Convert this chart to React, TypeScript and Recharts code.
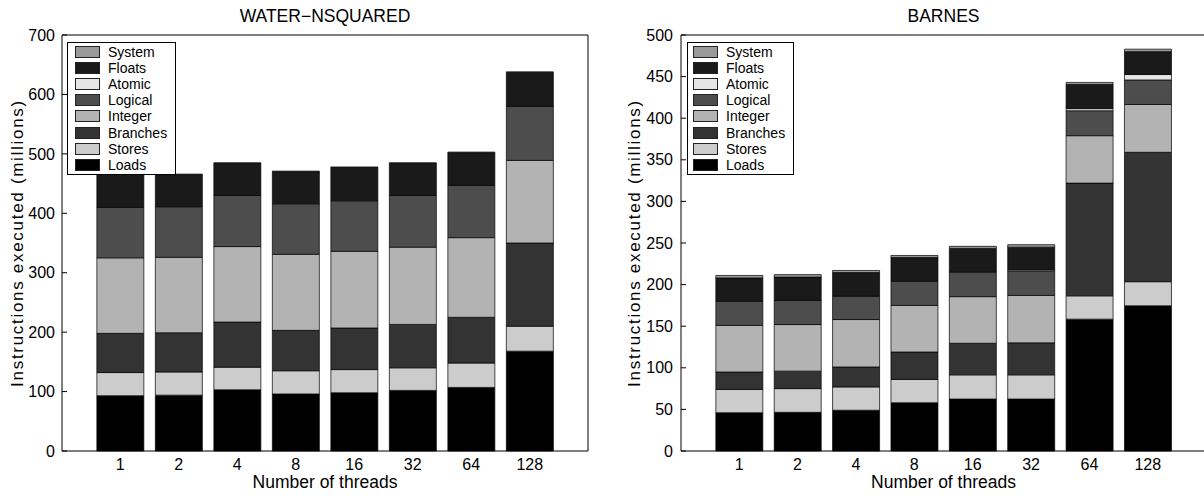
import React from 'react';
import { BarChart, Bar, XAxis, YAxis, Label } from 'recharts';

const threads = ['1', '2', '4', '8', '16', '32', '64', '128'];
const seriesNames = ['Loads', 'Stores', 'Branches', 'Integer', 'Logical', 'Atomic', 'Floats', 'System'];
const seriesColors = ['#000000', '#cccccc', '#333333', '#b3b3b3', '#4d4d4d', '#e6e6e6', '#1a1a1a', '#999999'];

// WATER-NSQUARED (millions)
const waterLoads = [93, 94, 103, 96, 98, 102, 107, 168];
const waterStores = [39, 39, 38, 39, 39, 38, 41, 42];
const waterBranches = [66, 66, 76, 68, 70, 73, 77, 140];
const waterInteger = [127, 127, 127, 128, 129, 130, 134, 139];
const waterLogical = [85, 85, 86, 85, 85, 87, 88, 91];
const waterAtomic = [0, 0, 0, 0, 0, 0, 0, 0];
const waterFloats = [57, 54, 54, 54, 56, 54, 55, 57];
const waterSystem = [1, 1, 1, 1, 1, 1, 1, 1];
const waterTicks = [0, 100, 200, 300, 400, 500, 600, 700];

// BARNES (millions)
const barnesLoads = [46, 46.5, 49, 58, 62.5, 62.5, 158.5, 174.5];
const barnesStores = [28, 28.5, 28, 28, 29, 29, 28, 29];
const barnesBranches = [21, 21, 24, 33, 38, 38.5, 135.5, 155.5];
const barnesInteger = [56, 56, 57, 56, 56, 57, 57, 57.5];
const barnesLogical = [29, 29, 28, 29, 29, 29, 30, 29.5];
const barnesAtomic = [0, 0, 0, 0, 1, 1.5, 2.5, 6.5];
const barnesFloats = [28, 28, 28.5, 28.5, 28, 27.5, 29, 27.5];
const barnesSystem = [3, 3, 2.5, 2.5, 2.5, 3, 2.5, 3];
const barnesTicks = [0, 50, 100, 150, 200, 250, 300, 350, 400, 450, 500];

function buildRows(cols: number[][]) {
  return threads.map((t, i) => {
    const row: Record<string, any> = { threads: t };
    seriesNames.forEach((n, k) => {
      row[n] = cols[k][i];
    });
    return row;
  });
}

const waterRows = buildRows([waterLoads, waterStores, waterBranches, waterInteger, waterLogical, waterAtomic, waterFloats, waterSystem]);
const barnesRows = buildRows([barnesLoads, barnesStores, barnesBranches, barnesInteger, barnesLogical, barnesAtomic, barnesFloats, barnesSystem]);

const FONT = '"Liberation Sans", Arial, Helvetica, sans-serif';

type PanelProps = {
  rows: any[];
  title: string;
  yMax: number;
  yTicks: number[];
  left: number;
  width: number;
  yAxisWidth: number;
  rightMargin: number;
  tickMargin: number;
  yLabelOffset: number;
  legendLeft: number;
  legendWidth: number;
  swatchLeft: number;
};

function LegendBox({ left, width, swatchLeft }: { left: number; width: number; swatchLeft: number }) {
  const order = [...seriesNames].reverse();
  return (
    <div
      style={{
        position: 'absolute',
        left,
        top: 42,
        width,
        height: 133,
        border: '1px solid #000',
        boxSizing: 'border-box',
        background: '#fff',
        paddingTop: 1,
        fontFamily: FONT,
        fontSize: 14,
        color: '#000',
      }}
    >
      {order.map((n) => {
        const k = seriesNames.indexOf(n);
        return (
          <div key={n} style={{ height: 16.1, display: 'flex', alignItems: 'center' }}>
            <div
              style={{
                marginLeft: swatchLeft,
                width: 25,
                height: 12,
                boxSizing: 'border-box',
                border: '1px solid #222',
                background: seriesColors[k],
              }}
            />
            <span style={{ marginLeft: 8, lineHeight: '16px' }}>{n}</span>
          </div>
        );
      })}
    </div>
  );
}

function Panel(p: PanelProps) {
  const pad = { left: 29, right: 29 };
  return (
    <div style={{ position: 'absolute', left: p.left, top: 0 }}>
      <BarChart
        width={p.width}
        height={496}
        data={p.rows}
        margin={{ top: 34, right: p.rightMargin, bottom: 0, left: 0 }}
        barCategoryGap="10%"
      >
        <XAxis
          dataKey="threads"
          height={45}
          padding={pad}
          interval={0}
          tickLine={false}
          tickSize={5}
          tickMargin={3}
          axisLine={{ stroke: '#000' }}
          tick={{ fontSize: 16, fill: '#000', fontFamily: FONT }}
        >
          <Label
            value="Number of threads"
            position="insideBottom"
            offset={8}
            style={{ fontSize: 17.5, fill: '#000', fontFamily: FONT }}
          />
        </XAxis>
        <XAxis
          xAxisId="top"
          orientation="top"
          dataKey="threads"
          height={1}
          padding={pad}
          interval={0}
          tick={false}
          tickSize={-5}
          tickLine={{ stroke: '#000' }}
          axisLine={{ stroke: '#000' }}
        >
          <Label
            value={p.title}
            position="top"
            offset={12}
            style={{ fontSize: 17.5, fill: '#000', fontFamily: FONT }}
          />
        </XAxis>
        <YAxis
          width={p.yAxisWidth}
          domain={[0, p.yMax]}
          ticks={p.yTicks}
          interval={0}
          tickSize={-5}
          tickMargin={p.tickMargin}
          tickLine={{ stroke: '#000' }}
          axisLine={{ stroke: '#000' }}
          tick={{ fontSize: 16, fill: '#000', fontFamily: FONT }}
        >
          <Label
            value="Instructions executed (millions)"
            angle={-90}
            position="insideLeft"
            offset={p.yLabelOffset}
            style={{ textAnchor: 'middle', fontSize: 17, fill: '#000', fontFamily: FONT, letterSpacing: 1.7 }}
          />
        </YAxis>
        <YAxis
          yAxisId="r"
          orientation="right"
          width={1}
          domain={[0, p.yMax]}
          ticks={p.yTicks}
          interval={0}
          tick={false}
          tickSize={-5}
          tickLine={{ stroke: '#000' }}
          axisLine={{ stroke: '#000' }}
        />
        {seriesNames.map((n, k) => (
          <Bar
            key={n}
            dataKey={n}
            stackId="s"
            fill={seriesColors[k]}
            stroke="#000"
            strokeWidth={0.7}
            isAnimationActive={false}
          />
        ))}
      </BarChart>
      <LegendBox left={p.legendLeft - p.left} width={p.legendWidth} swatchLeft={p.swatchLeft} />
    </div>
  );
}

export default function App() {
  return (
    <div
      style={{
        position: 'absolute',
        left: 0,
        top: 0,
        width: 1204,
        height: 496,
        overflow: 'hidden',
        background: '#fff',
        fontFamily: FONT,
      }}
    >
      <Panel
        rows={waterRows}
        title="WATER−NSQUARED"
        yMax={700}
        yTicks={waterTicks}
        left={0}
        width={600}
        yAxisWidth={62}
        rightMargin={11}
        tickMargin={12}
        yLabelOffset={17}
        legendLeft={67}
        legendWidth={109}
        swatchLeft={7}
      />
      <Panel
        rows={barnesRows}
        title="BARNES"
        yMax={500}
        yTicks={barnesTicks}
        left={612}
        width={604}
        yAxisWidth={69}
        rightMargin={9}
        tickMargin={13}
        yLabelOffset={22}
        legendLeft={687}
        legendWidth={107}
        swatchLeft={5}
      />
    </div>
  );
}
